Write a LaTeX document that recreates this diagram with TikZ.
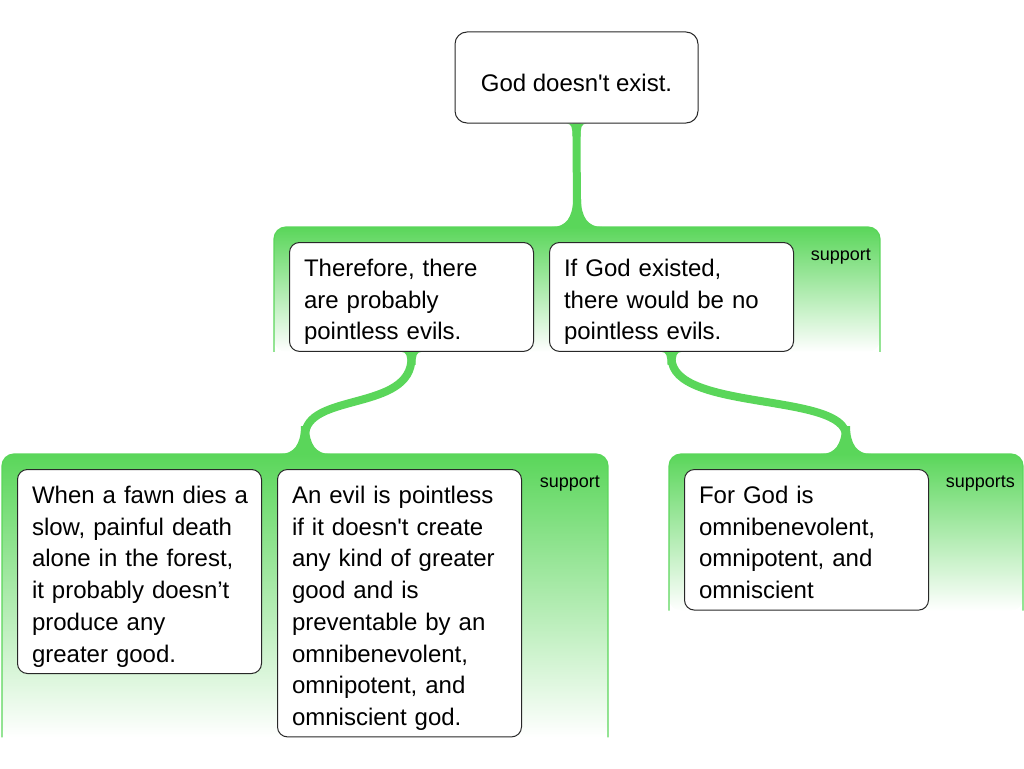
\documentclass[tikz,border=0pt]{standalone}
\usepackage{fontspec}
\newfontfamily\argfont{Liberation Sans}
\usepackage{tikz}
\usetikzlibrary{positioning, backgrounds, calc}
\definecolor{argGreen}{RGB}{90,214,90}
\definecolor{argLine}{RGB}{40,40,40}
\newcommand\argtop{\rule{0pt}{34pt}}
\newcommand\argbot{\rule[-11.5pt]{0pt}{11.5pt}}
\newcommand\argpanel[2]{%
  \shade[top color=argGreen, bottom color=white, rounded corners=12pt]
    (#1 |- #2) -- (#1) -- (#2 |- #1) -- (#2) -- cycle;
  \draw[argGreen, line width=1.2pt, rounded corners=12pt]
    (#1 |- #2) -- (#1) -- (#2 |- #1) -- (#2);}
\newcommand\argflow[2]{%
  \draw[flow] (#1) -- ($(#1)+(0,6)$)
    .. controls ($(#1)+(0,60)$) and ($(#2)+(0,-62)$) .. ($(#2)+(0,-18)$) -- (#2);
  \fill[argGreen, shift={(#1)}] (-10,0) .. controls (-5,0) and (-4,4) .. (-4,13)
    -- (4,13) .. controls (4,4) and (5,0) .. (10,0) -- cycle;
  \fill[argGreen, shift={(#2)}] (-25,0) .. controls (-11,0) and (-4,-10) .. (-4,-28)
    -- (4,-28) .. controls (4,-10) and (11,0) .. (25,0) -- cycle;}
\tikzset{
  argbox/.style={draw=argLine, line width=1pt, fill=white, rounded corners=10pt,
    anchor=north west, text width=215pt, inner xsep=14.5pt, inner ysep=0pt, align=left,
    font=\argfont\fontsize{24pt}{31.7pt}\selectfont},
  rootbox/.style={draw=argLine, line width=1pt, fill=white, rounded corners=12pt, inner sep=0pt,
    minimum width=243pt, minimum height=91pt, text height=31.5pt, text depth=3.1pt,
    font=\argfont\fontsize{24pt}{31.7pt}\selectfont},
  suplabel/.style={inner sep=0pt, anchor=base east,
    font=\argfont\fontsize{18pt}{20pt}\selectfont},
  flow/.style={draw=argGreen, line width=8pt}
}

\begin{document}
\begin{tikzpicture}[x=1pt, y=-1pt]
    \useasboundingbox (0,0) rectangle (1024,768);
    \node[rootbox] (root) at (576.5,77.5) {God doesn't exist.};
    \node[argbox] (argA) at (289,242) {\argtop Therefore, there\\are probably\\pointless evils.\argbot};
    \node[argbox, right=15pt of argA] (argB) {\argtop If God existed,\\there would be no\\pointless evils.\argbot};
    \node[argbox] (argC) at (17,469) {\argtop\mbox{When a fawn dies a}\\slow, painful death\\alone in the forest,\\it probably doesn’t\\produce any\\greater good.\argbot};
    \node[argbox] (argD) at ([xshift=15pt]argC.north east) {\argtop An evil is pointless\\if it doesn't create\\any kind of greater\\good and is\\preventable by an\\omnibenevolent,\\omnipotent, and\\omniscient god.\argbot};
    \node[argbox] (argE) at (684,469) {\argtop For God is\\omnibenevolent,\\omnipotent, and\\omniscient\argbot};

    \coordinate (p1nw) at ($(argA.north west)+(-15,-15)$);
    \coordinate (p1se) at ($(argB.south east)+(86,0)$);
    \coordinate (p2nw) at ($(argC.north west)+(-15,-15)$);
    \coordinate (p2se) at ($(argD.south east)+(86,0)$);
    \coordinate (p3nw) at ($(argE.north west)+(-15,-15)$);
    \coordinate (p3se) at ($(argE.south east)+(94,0)$);
    \coordinate (p1top) at ($(p1nw)!0.5!(p1se |- p1nw)$);
    \coordinate (p2top) at ($(p2nw)!0.5!(p2se |- p2nw)$);
    \coordinate (p3top) at ($(p3nw)!0.5!(p3se |- p3nw)$);

    \node[suplabel] (sup1) at ($(p1se |- p1nw)+(-9,33)$) {support};
    \node[suplabel] (sup2) at ($(p2se |- p2nw)+(-8,33)$) {support};
    \node[suplabel] (sup3) at ($(p3se |- p3nw)+(-8,33)$) {supports};

    \begin{scope}[on background layer]
        \argpanel{p1nw}{p1se}
        \argpanel{p2nw}{p2se}
        \argpanel{p3nw}{p3se}
        \argflow{root.south}{p1top}
        \argflow{argA.south}{p2top}
        \argflow{argB.south}{p3top}
    \end{scope}
\end{tikzpicture}
\end{document}
